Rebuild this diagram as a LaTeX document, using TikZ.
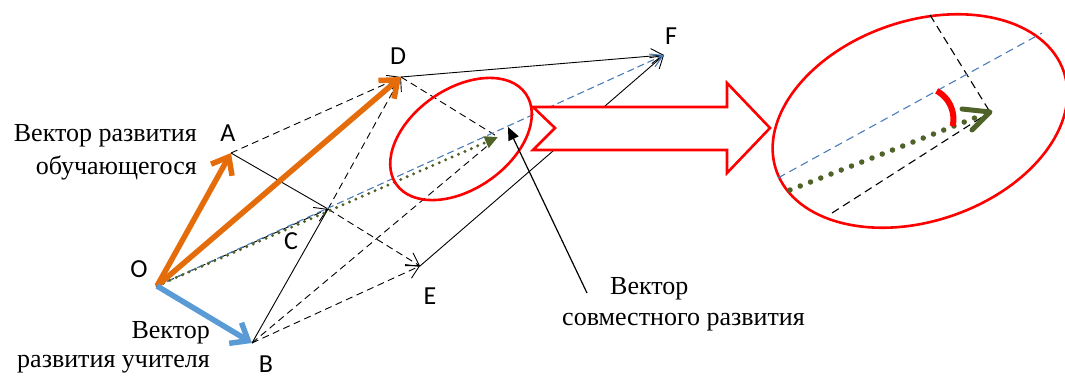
\documentclass[tikz,border=0pt]{standalone}
\usepackage{fontspec}
\setmainfont{Liberation Serif}
\newfontfamily\rufont{Liberation Serif}
\newfontfamily\lblfont{Carlito}
\usetikzlibrary{arrows.meta,calc}
\definecolor{orng}{HTML}{E46C0A}
\definecolor{blu}{HTML}{5B9BD5}
\definecolor{dblu}{HTML}{4A7EBB}
\definecolor{olv}{HTML}{4F6228}
\begin{document}
\begin{tikzpicture}[x=1pt,y=-1pt,
 ln/.style={line width=0.9pt},
 dsh/.style={ln, dash pattern=on 7pt off 4.5pt},
 hd/.style={-{Straight Barb[length=12pt,width=15pt]}},
 big/.style={line width=5.5pt, -{Straight Barb[length=15pt,width=24pt]}},
 lbl/.style={font=\lblfont\fontsize{26}{28}\selectfont, inner sep=0pt},
 txt/.style={font=\rufont\fontsize{26}{30}\selectfont, inner sep=0pt},
 bdash/.style={dblu, line width=1.1pt, dash pattern=on 7pt off 4pt},
 gdot/.style={olv, line width=3.3pt, line cap=round, dash pattern=on 0pt off 7pt},
 redl/.style={red, line width=2.6pt}
]
\useasboundingbox (0,0) rectangle (1065,377);
% points
\coordinate (O) at (157,286);
\coordinate (A) at (231,153);
\coordinate (D) at (401,77);
\coordinate (B) at (252,343);
\coordinate (C) at (328,209);
\coordinate (E) at (420,266);
\coordinate (F) at (664,55);
\coordinate (G) at (498,137);
% thin construction lines
\draw[dsh,hd] (A) -- (D);
\draw[ln] (A) -- (C);
\draw[dsh,hd] (C) -- (E);
\draw[ln] (B) -- (C);
\draw[dsh,hd] (C) -- (D);
\draw[dsh,hd] (B) -- (E);
\draw[dsh] (B) -- (G);
\draw[dsh] (D) -- (G);
\draw[ln,hd] (D) -- (F);
\draw[ln,hd] (E) -- (F);
\draw[dsh,hd] (O) -- (C);
\draw[bdash,-{Straight Barb[length=12pt,width=14pt]}] (O) -- (F);
\draw[gdot,-{Triangle[length=13pt,width=12pt]}] (O) -- (G);
% main vectors
\draw[big,orng] (O) -- (A);
\draw[big,orng] (O) -- (D);
\draw[big,blu] (O) -- (B);
% ellipse around joint vector
\draw[redl,rotate around={35:(461,139)}] (461,139) ellipse [x radius=79, y radius=50];
% pointer
\coordinate (P0) at (587,293);
\coordinate (P1) at (508,127);
\draw[line width=1.2pt,-{Triangle[length=13pt,width=11pt]}] (P0) -- (P1);
% big hollow arrow
\draw[redl,fill=white,line join=miter] (533,107) -- (727,107) -- (727,83) -- (770,128) -- (727,173) -- (727,150) -- (533,150) -- (555,128) -- cycle;
% magnified view
\draw[redl,rotate around={19:(920,121)}] (920,121) ellipse [x radius=152, y radius=100];
\coordinate (M1) at (930,15);
\coordinate (M2) at (832,213);
\coordinate (MT) at (990,112);
\coordinate (MB1) at (778,178);
\coordinate (MB2) at (1042,33);
\coordinate (MG) at (790,190);
\draw[dsh,line width=1.1pt,dash pattern=on 8pt off 5pt] (M1) -- (MT);
\draw[dsh,line width=1.1pt,dash pattern=on 8pt off 5pt] (M2) -- (MT);
\draw[bdash,dash pattern=on 8pt off 5pt] (MB1) -- (MB2);
\draw[olv,line width=5.5pt,line cap=round,dash pattern=on 0pt off 11pt] (MG) -- ($(MG)!0.93!(MT)$);
\draw[olv,line width=5pt,line cap=round,line join=round] (962,109) -- (MT) -- (972,130);
\draw[red,line width=6pt] plot[domain=-12.8:61.5,samples=30] ({921.4+32*cos(\x)},{119-32*sin(\x)});
% labels
\node[lbl] (lO) at (139,269) {O};
\node[lbl] (lA) at (228,133) {A};
\node[lbl] (lD) at (398,56) {D};
\node[lbl] (lF) at (671,36) {F};
\node[lbl] (lC) at (291,241) {C};
\node[lbl] (lE) at (430,296) {E};
\node[lbl] (lB) at (266,364) {B};
\node[txt,anchor=base east] (t1) at (197,142) {Вектор развития};
\node[txt,anchor=base east] (t2) at (197,175) {обучающегося};
\node[txt,anchor=base east] (t3) at (210,338) {Вектор};
\node[txt,anchor=base east] (t4) at (210,367) {развития учителя};
\node[txt,anchor=base west] (t5) at (610,294) {Вектор};
\node[txt,anchor=base west] (t6) at (562,325) {совместного развития};
\end{tikzpicture}
\end{document}
